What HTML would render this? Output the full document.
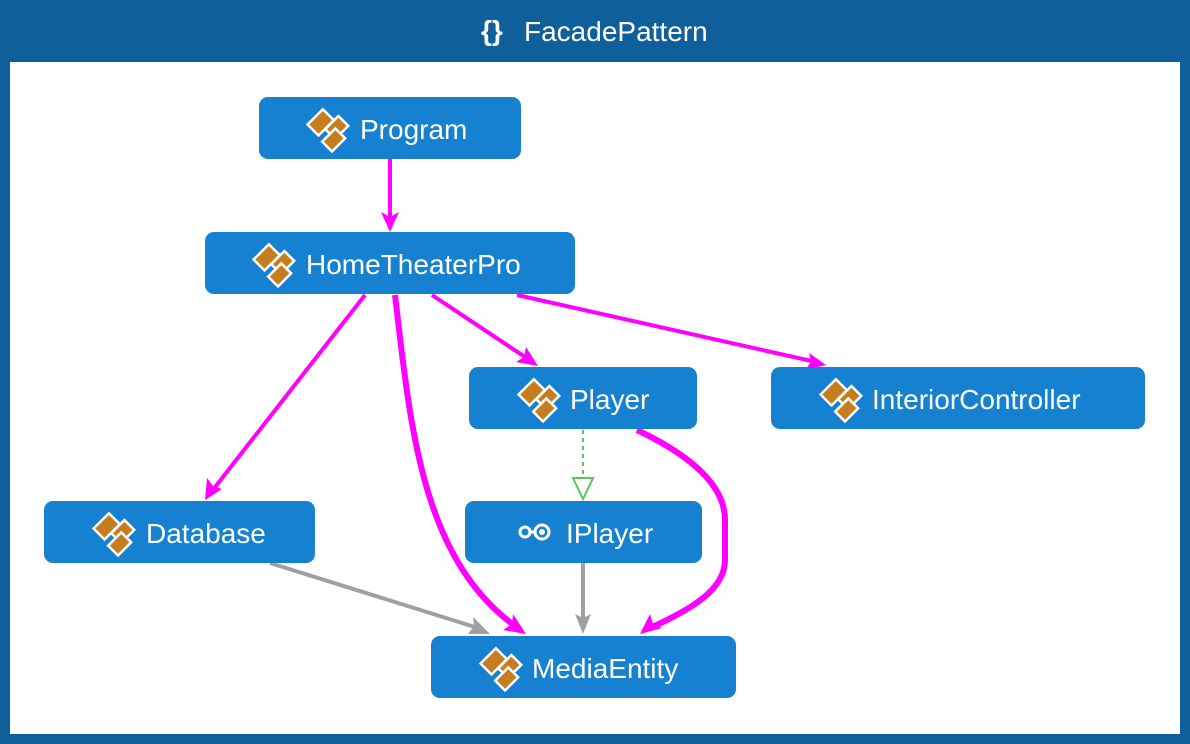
<!DOCTYPE html>
<html><head><meta charset="utf-8"><style>
html,body{margin:0;padding:0;background:#0f5f9a;}
svg{display:block}
text{font-family:"Liberation Sans","DejaVu Sans",sans-serif;fill:#fff}
</style></head><body>
<svg width="1190" height="744" viewBox="0 0 1190 744">
<defs>
<g id="ic">
 <g stroke="#fff" stroke-width="1.6" fill="#c57d1f" transform="scale(1.55)">
  <rect x="-13" y="-8" width="14" height="10" transform="rotate(-45 -6 -3)"/>
  <rect x="-2" y="-4" width="12" height="9" transform="rotate(-45 4 0)"/>
  <rect x="-4" y="4" width="12" height="9" transform="rotate(-45 2 8)"/>
 </g>
</g>
</defs>
<rect x="0" y="0" width="1190" height="744" fill="#0f5f9a"/>
<rect x="10" y="62" width="1170" height="672" fill="#fff"/>
<text x="524" y="41" font-size="28">FacadePattern</text>
<text x="481" y="40" font-size="28" font-weight="bold">{}</text>

<g fill="none" stroke="#ff00ff" stroke-width="4">
 <line x1="390" y1="159" x2="390" y2="222"/>
 <line x1="365" y1="295" x2="212" y2="491"/>
 <line x1="432" y1="295" x2="528" y2="359"/>
 <line x1="517" y1="295" x2="816" y2="362"/>
</g>
<g fill="none" stroke="#ff00ff" stroke-width="6">
 <path d="M395 295 C410 420 420 560 518 628"/>
 <path d="M637 430 C700 460 725 490 725 520 L725 560 C725 590 690 610 650 628"/>
</g>
<g fill="#ff00ff">
 <polygon points="390,232 381,212 390,217 399,212"/>
 <polygon points="205,500 207,478 213,486 222,489"/>
 <polygon points="538,366 516,362 524,357 526,347"/>
 <polygon points="826,365 805,370 811,362 809,353"/>
 <polygon points="526,634 503,630 512,624 513,614"/>
 <polygon points="640,634 650,614 653,624 662,628"/>
</g>
<g stroke="#a0a0a0" stroke-width="4" fill="none">
 <line x1="270" y1="563" x2="478" y2="628"/>
 <line x1="583" y1="563" x2="583" y2="622"/>
</g>
<g fill="#a0a0a0">
 <polygon points="490,634 468,634 474,626 473,617"/>
 <polygon points="583,634 575,614 583,618 591,614"/>
</g>
<line x1="583" y1="430" x2="583" y2="478" stroke="#5ec25e" stroke-width="2" stroke-dasharray="4,4"/>
<polygon points="573,478 593,478 583,499" fill="#fff" stroke="#5ec25e" stroke-width="2"/>

<g fill="#1581d0">
 <rect x="259" y="97" width="262" height="62" rx="9"/>
 <rect x="205" y="232" width="370" height="62" rx="9"/>
 <rect x="469" y="367" width="228" height="62" rx="9"/>
 <rect x="771" y="367" width="374" height="62" rx="9"/>
 <rect x="44" y="501" width="271" height="62" rx="9"/>
 <rect x="465" y="501" width="237" height="62" rx="9"/>
 <rect x="431" y="636" width="305" height="62" rx="9"/>
</g>
<use href="#ic" x="330" y="127"/>
<use href="#ic" x="276" y="262"/>
<use href="#ic" x="541" y="397"/>
<use href="#ic" x="843" y="397"/>
<use href="#ic" x="116" y="531"/>
<use href="#ic" x="503" y="666"/>
<g stroke="#fff" stroke-width="3" fill="none">
 <circle cx="525" cy="532" r="5"/>
 <circle cx="542" cy="532" r="7"/>
 <line x1="530" y1="532" x2="535" y2="532"/>
</g>
<circle cx="542" cy="532" r="3" fill="#fff"/>
<g font-size="28">
 <text x="360" y="139">Program</text>
 <text x="306" y="274">HomeTheaterPro</text>
 <text x="570" y="409">Player</text>
 <text x="872" y="409">InteriorController</text>
 <text x="146" y="543">Database</text>
 <text x="566" y="543">IPlayer</text>
 <text x="532" y="678">MediaEntity</text>
</g>
</svg>
</body></html>
